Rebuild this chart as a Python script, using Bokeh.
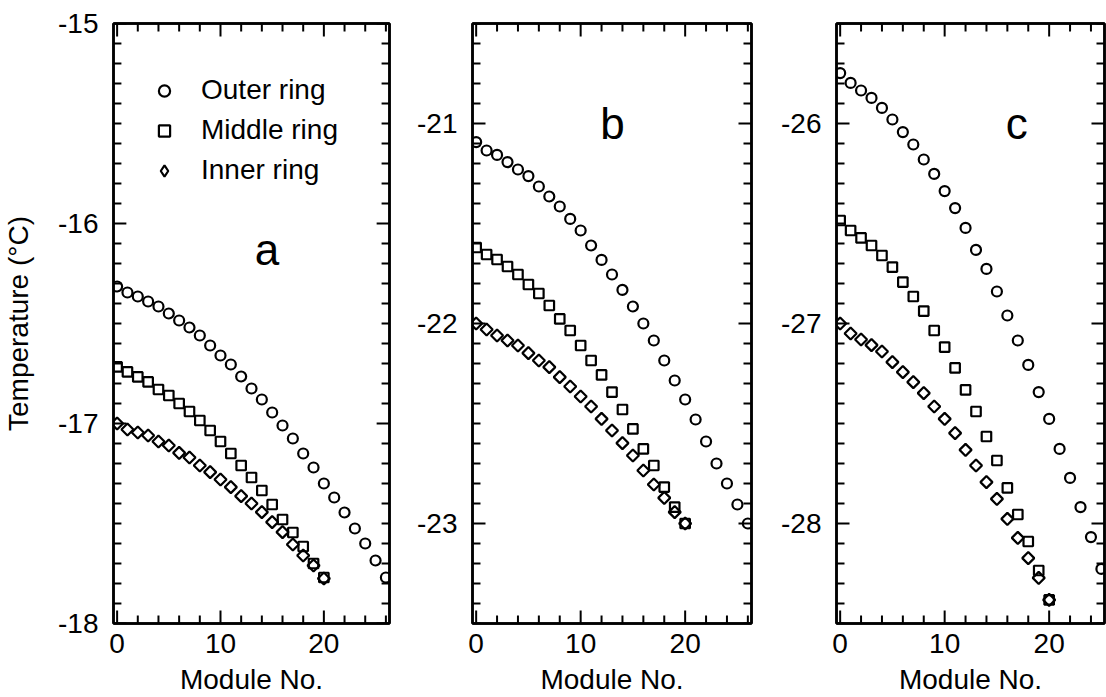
import math
from bokeh.plotting import figure
from bokeh.layouts import row
from bokeh.models import (Range1d, LinearAxis, SingleIntervalTicker, Legend,
                          LegendItem, Label, CustomJSTickFormatter)
from bokeh.embed import file_html
from bokeh.resources import INLINE

# ---------------- data ----------------
modules_outer = [0, 1, 2, 3, 4, 5, 6, 7, 8, 9, 10, 11, 12, 13, 14, 15, 16, 17,
                 18, 19, 20, 21, 22, 23, 24, 25, 26]
modules_ring = [0, 1, 2, 3, 4, 5, 6, 7, 8, 9, 10, 11, 12, 13, 14, 15, 16, 17,
                18, 19, 20]

outer_a = [-16.315, -16.345, -16.365, -16.39, -16.415, -16.45, -16.485, -16.52,
           -16.56, -16.61, -16.66, -16.705, -16.765, -16.825, -16.88, -16.945,
           -17.01, -17.075, -17.15, -17.22, -17.30, -17.37, -17.445, -17.525,
           -17.60, -17.685, -17.77]
middle_a = [-16.717, -16.742, -16.767, -16.792, -16.83, -16.86, -16.90, -16.94,
            -16.985, -17.035, -17.09, -17.15, -17.21, -17.27, -17.335, -17.405,
            -17.48, -17.545, -17.615, -17.70, -17.77]
inner_a = [-17.0, -17.03, -17.045, -17.06, -17.09, -17.11, -17.147, -17.17,
           -17.21, -17.243, -17.28, -17.318, -17.363, -17.40, -17.443, -17.493,
           -17.543, -17.605, -17.66, -17.71, -17.775]

outer_b = [-21.093, -21.135, -21.157, -21.193, -21.23, -21.263, -21.315, -21.365,
           -21.415, -21.477, -21.535, -21.61, -21.682, -21.755, -21.832, -21.915,
           -22.0, -22.085, -22.185, -22.285, -22.38, -22.48, -22.59, -22.70,
           -22.80, -22.905, -23.0]
middle_b = [-21.62, -21.655, -21.68, -21.715, -21.755, -21.805, -21.85, -21.91,
            -21.977, -22.035, -22.11, -22.185, -22.257, -22.343, -22.43, -22.527,
            -22.627, -22.71, -22.818, -22.918, -23.0]
inner_b = [-22.0, -22.03, -22.06, -22.085, -22.11, -22.148, -22.185, -22.218,
           -22.268, -22.315, -22.365, -22.415, -22.477, -22.535, -22.598, -22.66,
           -22.735, -22.805, -22.872, -22.943, -23.0]

outer_c = [-25.748, -25.797, -25.835, -25.872, -25.922, -25.98, -26.043, -26.105,
           -26.18, -26.252, -26.338, -26.423, -26.522, -26.632, -26.727, -26.84,
           -26.96, -27.085, -27.207, -27.343, -27.477, -27.627, -27.772, -27.918,
           -28.068, -28.227, -28.382]
middle_c = [-26.485, -26.535, -26.572, -26.61, -26.66, -26.718, -26.793, -26.865,
            -26.938, -27.035, -27.118, -27.222, -27.332, -27.44, -27.565, -27.685,
            -27.822, -27.955, -28.09, -28.235, -28.382]
inner_c = [-27.0, -27.05, -27.08, -27.108, -27.14, -27.193, -27.243, -27.293,
           -27.348, -27.415, -27.477, -27.548, -27.632, -27.71, -27.793, -27.877,
           -27.977, -28.072, -28.173, -28.272, -28.382]

series_labels = ["Outer ring", "Middle ring", "Inner ring"]
panel_letters = ["a", "b", "c"]
y_ranges = [(-18.0, -15.0), (-23.5, -20.5), (-28.5, -25.5)]
x_label = "Module No."
y_label = "Temperature (\u00b0C)"

# ---------------- style ----------------
FONT = "Liberation Sans"
FS = "28px"
PX_PER_UNIT_X = 10.45
FRAME_H = 600
X_START = -0.35
H = 697
X_MAJOR, X_MINOR = 10, 2
Y_MAJOR, Y_MINOR_N = 1, 10
MAJOR_LEN, MINOR_LEN = 13, 8  # px, inward

FMT = CustomJSTickFormatter(code="return tick.toFixed(0);")


def style_axis(ax, show_labels):
    ax.axis_line_width = 2.5
    ax.axis_line_color = "black"
    ax.major_tick_in = 0
    ax.major_tick_out = 0
    ax.minor_tick_in = 0
    ax.minor_tick_out = 0
    if show_labels:
        ax.formatter = FMT
        ax.major_label_text_font = FONT
        ax.major_label_text_font_size = FS
        ax.major_label_text_color = "black"
    else:
        ax.major_label_text_font_size = "1px"
        ax.major_label_text_alpha = 0
        ax.major_label_standoff = 0


def add_ticks(p, x0, x1, y0, y1):
    """Inward tick marks on all four frame sides (one short segment each)."""
    eps = 1e-6
    uy = (y1 - y0) / FRAME_H            # data units per pixel (y)
    ux = 1.0 / PX_PER_UNIT_X            # data units per pixel (x)
    x_ticks = [(v, MAJOR_LEN if v % X_MAJOR == 0 else MINOR_LEN)
               for v in range(0, int(x1) + 1, X_MINOR)]
    n_y = int(round((y1 - y0) * Y_MINOR_N))
    y_ticks = []
    for k in range(n_y + 1):
        v = round(y0 + k / Y_MINOR_N, 3)
        y_ticks.append((v, MAJOR_LEN if abs(v - round(v)) < eps else MINOR_LEN))
    for v, ln in x_ticks:
        p.segment(x0=[v], y0=[y0], x1=[v], y1=[y0 + ln * uy],
                  line_color="black", line_width=2)
        p.segment(x0=[v], y0=[y1], x1=[v], y1=[y1 - ln * uy],
                  line_color="black", line_width=2)
    for v, ln in y_ticks:
        p.segment(x0=[x0], y0=[v], x1=[x0 + ln * ux], y1=[v],
                  line_color="black", line_width=2)
        p.segment(x0=[x1], y0=[v], x1=[x1 - ln * ux], y1=[v],
                  line_color="black", line_width=2)


def make_panel(border_left, border_right, frame_w, y_rng, outer, middle, inner,
               letter, letter_x, letter_y, with_ylabel, with_legend):
    x_end = X_START + frame_w / PX_PER_UNIT_X
    p = figure(width=border_left + frame_w + border_right, height=H,
               x_range=Range1d(X_START, x_end), y_range=Range1d(*y_rng),
               output_backend="svg", toolbar_location=None,
               x_axis_location=None, y_axis_location=None,
               min_border_left=border_left, min_border_right=border_right,
               min_border_top=23, min_border_bottom=74)
    p.grid.visible = False
    p.outline_line_color = "black"
    p.outline_line_width = 2.5
    p.background_fill_color = "white"
    p.border_fill_color = "white"

    def xt():
        return SingleIntervalTicker(interval=X_MAJOR, num_minor_ticks=5)

    def yt():
        return SingleIntervalTicker(interval=Y_MAJOR, num_minor_ticks=Y_MINOR_N)

    bottom = LinearAxis(ticker=xt(), axis_label=x_label)
    style_axis(bottom, True)
    bottom.major_label_standoff = 10
    bottom.axis_label_standoff = 8
    bottom.axis_label_text_font = FONT
    bottom.axis_label_text_font_size = FS
    bottom.axis_label_text_font_style = "normal"
    bottom.axis_label_text_color = "black"
    p.add_layout(bottom, "below")

    top = LinearAxis(ticker=xt())
    style_axis(top, False)
    p.add_layout(top, "above")

    left = LinearAxis(ticker=yt())
    style_axis(left, True)
    left.major_label_standoff = 15
    if with_ylabel:
        left.axis_label = y_label
        left.axis_label_standoff = 21
        left.axis_label_text_font = FONT
        left.axis_label_text_font_size = FS
        left.axis_label_text_font_style = "normal"
        left.axis_label_text_color = "black"
    p.add_layout(left, "left")

    right = LinearAxis(ticker=yt())
    style_axis(right, False)
    p.add_layout(right, "right")

    r_out = p.scatter(modules_outer, outer, marker="circle", size=10,
                      fill_color=None, line_color="black", line_width=2.2)
    r_mid = p.scatter(modules_ring, middle, marker="square", size=9.5,
                      fill_color=None, line_color="black", line_width=2.2)
    p.scatter(modules_ring, inner, marker="square", size=8.5,
              angle=math.pi / 4, fill_color=None, line_color="black",
              line_width=2.2)

    p.add_layout(Label(x=letter_x, y=letter_y, text=letter, text_align="center",
                       text_baseline="alphabetic", text_font=FONT,
                       text_font_size="44px", text_color="black"))

    if with_legend:
        # hidden proxy renderer for the legend's diamond key
        # (legend glyphs are drawn without rotation)
        r_in_key = p.scatter(modules_ring, inner, marker="diamond", size=12,
                             fill_color=None, line_color="black",
                             line_width=2.2, visible=False)
        legend = Legend(items=[LegendItem(label=series_labels[0], renderers=[r_out]),
                               LegendItem(label=series_labels[1], renderers=[r_mid]),
                               LegendItem(label=series_labels[2], renderers=[r_in_key])],
                        location=(37, 434.5), margin=0, padding=0, spacing=3,
                        glyph_width=28, glyph_height=37, label_height=37,
                        label_standoff=23, label_text_font=FONT,
                        label_text_font_size=FS, label_text_color="black",
                        border_line_color=None, background_fill_alpha=0,
                        inactive_fill_alpha=0)
        p.add_layout(legend)

    add_ticks(p, X_START, x_end, y_rng[0], y_rng[1])
    return p


pa = make_panel(110, 4, 279, y_ranges[0], outer_a, middle_a, inner_a,
                panel_letters[0], 14.5, -16.13, True, True)
pb = make_panel(79, 4, 279, y_ranges[1], outer_b, middle_b, inner_b,
                panel_letters[1], 13.05, -21.0, False, False)
pc = make_panel(81, 2, 268, y_ranges[2], outer_c, middle_c, inner_c,
                panel_letters[2], 16.9, -26.0, False, False)

layout = row(pa, pb, pc)
open("out.html", "w").write(file_html(layout, INLINE))
